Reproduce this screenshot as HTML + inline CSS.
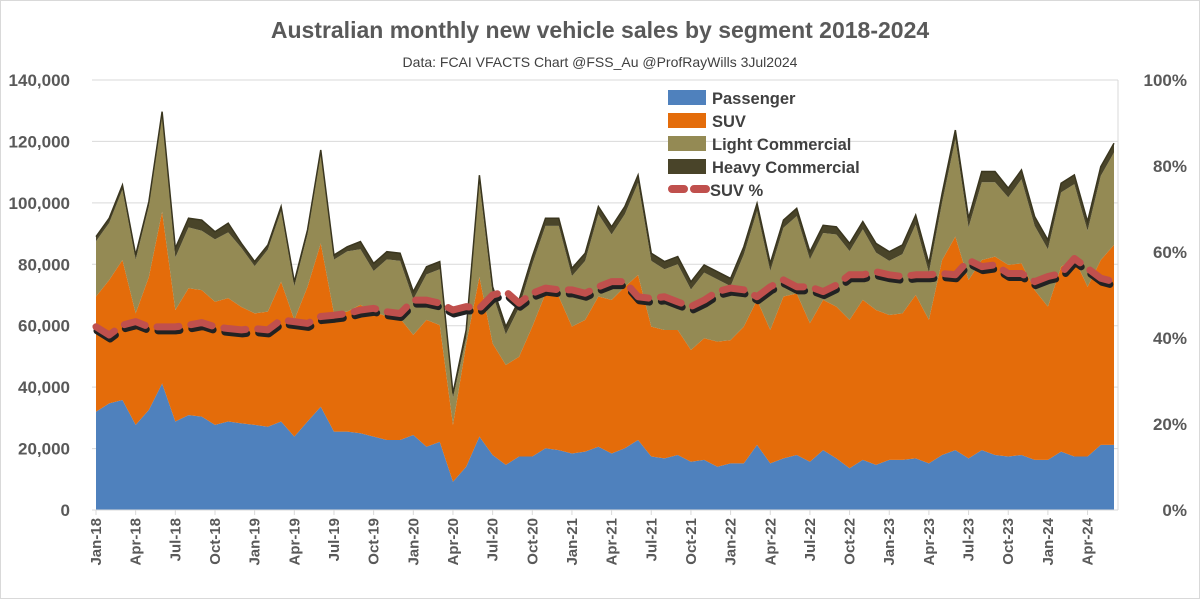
<!DOCTYPE html>
<html><head><meta charset="utf-8"><style>
body{margin:0;background:#fff;}
svg{display:block;font-family:"Liberation Sans",sans-serif;}
</style></head><body>
<svg id="chart" width="1200" height="599" viewBox="0 0 1200 599" xmlns="http://www.w3.org/2000/svg">
<rect x="0.5" y="0.5" width="1199" height="598" fill="#fff" stroke="#d9d9d9"/>
<text x="600" y="38" text-anchor="middle" font-size="23" font-weight="bold" fill="#595959">Australian monthly new vehicle sales by segment 2018-2024</text>
<text x="600" y="67" text-anchor="middle" font-size="14" fill="#404040">Data: FCAI VFACTS  Chart @FSS_Au @ProfRayWills 3Jul2024</text>
<g id="grid"></g><g id="areas"></g><g id="lines"></g><g id="axes"></g>
<g id="legend">
<rect x="668" y="90" width="38" height="15" fill="#4f81bd"/>
<text x="712" y="104" font-size="16.5" font-weight="bold" fill="#404040">Passenger</text>
<rect x="668" y="113" width="38" height="15" fill="#e46c0a"/>
<text x="712" y="127" font-size="16.5" font-weight="bold" fill="#404040">SUV</text>
<rect x="668" y="136" width="38" height="15" fill="#948a54"/>
<text x="712" y="150" font-size="16.5" font-weight="bold" fill="#404040">Light Commercial</text>
<rect x="668" y="159" width="38" height="15" fill="#494429"/>
<text x="712" y="173" font-size="16.5" font-weight="bold" fill="#404040">Heavy Commercial</text>
<line x1="672" y1="189" x2="708" y2="189" stroke="#c0504d" stroke-width="8" stroke-dasharray="12 10" stroke-linecap="round"/>
<text x="710" y="196" font-size="16.5" font-weight="bold" fill="#404040">SUV %</text>
</g>
</svg>
<script>
const monthLabels=["Jan-18","Apr-18","Jul-18","Oct-18","Jan-19","Apr-19","Jul-19","Oct-19","Jan-20","Apr-20","Jul-20","Oct-20","Jan-21","Apr-21","Jul-21","Oct-21","Jan-22","Apr-22","Jul-22","Oct-22","Jan-23","Apr-23","Jul-23","Oct-23","Jan-24","Apr-24"];
const leftTicks=["0","20,000","40,000","60,000","80,000","100,000","120,000","140,000"];
const rightTicks=["0%","20%","40%","60%","80%","100%"];
const passenger=[32,34.7,35.8,27.7,32.6,41.2,28.8,30.9,30.4,27.7,28.8,28.2,27.7,27.1,28.8,23.9,28.8,33.6,25.5,25.5,25,23.9,22.8,22.8,24.4,20.6,22.2,9.2,14.1,23.9,17.9,14.7,17.4,17.4,20.1,19.5,18.4,19,20.6,18.4,20.1,22.8,17.4,16.8,17.9,15.7,16.3,14.1,15.2,15.2,21.2,15.2,16.8,17.9,15.7,19.5,16.8,13.6,16.3,14.7,16.3,16.3,16.8,15.2,17.9,19.5,16.8,19.5,17.9,17.4,17.9,16.3,16.3,19,17.4,17.4,21.2,21.2];
const suv=[37.5,40.2,45.6,36.3,43.3,55.9,36.3,41.3,41.2,40.1,40.2,37.9,36.3,37.5,45.5,38,43.9,53.2,38.5,39.1,41.8,40.7,40.2,39.6,32.6,41.3,38,18.5,39.9,52,36.3,32.5,32.5,42.3,50.4,50,41.3,42.9,48.9,50,52.6,53.7,42.3,41.8,40.7,36.4,39.6,40.7,40.1,44.5,47.2,43.4,52.7,52.6,45.1,48.9,49.4,48.3,52.1,50.4,47.2,47.7,53.2,46.7,63.5,69.5,58.1,61.9,64.6,62.4,62.4,55.3,49.9,60.2,64.5,55.3,60.2,65.1];
const lightCommercial=[18,18.6,22.9,17.5,23,31.1,17.1,19.8,19.3,20.3,21.4,19.2,15.4,20.2,23,10.9,17,28.9,17.5,19.6,18.1,13.2,18.6,18.7,11.6,14.8,18.2,8.8,2.1,30.6,16,10,16,20.3,22,23,16.5,19.2,26.8,21.3,23.6,30,21.4,19.8,21.4,19.7,21.4,20.3,17.6,23.5,28.9,19.2,22.4,25.2,20.8,21.8,23.5,22.4,23,18.7,17.6,19.3,23,15.4,18.7,31.7,17.1,25.3,24.2,22,27.4,20.9,18.7,24.2,24.2,18.2,27.4,30.1];
const heavyCommercial=[1.5,1.5,1.5,1.5,1.5,1.5,3,3,3.5,2.5,3,1.5,1.5,1.5,1.5,1.5,1.5,1.5,1.5,1.5,2.5,2.5,2.5,2.5,2.5,2.5,2.5,1.5,2.5,2.5,2.5,2.5,2.5,2.5,2.5,2.5,2.5,2.5,2.5,2.5,2.5,2.5,2.5,2.5,2.5,2.5,2.5,2.5,2.5,2.5,2.5,2.5,2.5,2.5,2.5,2.5,2.5,2.5,2.5,3,3,3,3,3,3,3,3,3.5,3.5,3,3,3,3,3,3,3,3,3];
const suvPct=[42.6,40.7,43,43.8,42.6,42.6,42.6,43,43.6,42.6,42.2,41.9,42.2,41.9,44.2,43.8,43.4,45,45.3,45.7,46.5,46.9,46.1,45.7,48.8,48.8,48.1,46.5,47.3,46.9,50,50.8,48.1,50.4,51.6,51.2,51.2,50.4,51.9,53.1,53.1,49.6,49.2,49.6,48.4,47.3,48.8,50.8,51.6,51.2,49.6,51.9,53.5,51.9,51.9,50.8,52.3,54.7,54.7,55.4,54.7,54.3,54.7,54.7,55,54.7,58.1,56.6,57,55,55,53.1,54.3,55,58.5,56.2,53.9,53.1];

const NS="http://www.w3.org/2000/svg";
const X0=96,X1=1114,Y0=510,YT=80,N=passenger.length;
const x=i=>X0+(X1-X0)*i/(N-1);
const y=v=>Y0-(Y0-YT)*v/140;
const yp=p=>Y0-(Y0-YT)*p/100;
function mk(tag,attrs,parent){const e=document.createElementNS(NS,tag);for(const k in attrs)e.setAttribute(k,attrs[k]);document.getElementById(parent).appendChild(e);return e;}

leftTicks.forEach((t,k)=>{
  const yy=y(k*20);
  if(k>0){const g=mk('line',{x1:X0-4,x2:X1+4,y1:yy,y2:yy,stroke:'#d9d9d9','stroke-width':1},'grid');
  
  }
  const tx=mk('text',{x:70,y:yy+6,'text-anchor':'end','font-size':17,'font-weight':'bold',fill:'#595959'},'axes');
  tx.textContent=t;
  
  
});
rightTicks.forEach((t,k)=>{
  const yy=yp(k*20);
  const tx=mk('text',{x:1187,y:yy+6,'text-anchor':'end','font-size':17,'font-weight':'bold',fill:'#595959'},'axes');
  tx.textContent=t;
  
  
});
const ax=mk('line',{x1:X0-4,x2:X1+4,y1:Y0,y2:Y0,stroke:'#d9d9d9','stroke-width':1},'axes');


const ra=mk('line',{x1:X1+4,x2:X1+4,y1:YT,y2:Y0,stroke:'#d9d9d9','stroke-width':1},'axes');


monthLabels.forEach((m,k)=>{
  const xx=x(k*3);
  const tk=mk('line',{x1:xx,x2:xx,y1:Y0,y2:Y0+5,stroke:'#d9d9d9'},'axes');
  
  
  const tx=mk('text',{x:0,y:0,transform:`translate(${xx+5},${Y0+8}) rotate(-90)`,'text-anchor':'end','font-size':15,'font-weight':'bold',fill:'#595959'},'axes');
  tx.textContent=m;
  
  
});

const series=[[passenger,'#4f81bd','area-passenger'],[suv,'#e46c0a','area-suv'],[lightCommercial,'#948a54','area-light-commercial'],[heavyCommercial,'#494429','area-heavy-commercial']];
let base=new Array(N).fill(0);
series.forEach(([arr,col,name])=>{
  const top=base.map((b,i)=>b+arr[i]);
  let d='M'+top.map((v,i)=>x(i)+','+y(v)).join(' L');
  for(let i=N-1;i>=0;i--)d+=' L'+x(i)+','+y(base[i]);
  d+='Z';
  const p=mk('path',{d:d,fill:col},'areas');
  
  
  base=top;
});
const edge=mk('polyline',{points:base.map((v,i)=>x(i)+','+y(v)).join(' '),fill:'none',stroke:'#3a361f','stroke-width':1.5},'areas');



const pts=suvPct.map((v,i)=>x(i)+','+yp(v)).join(' ');
const sh=mk('polyline',{points:pts,fill:'none',stroke:'#222','stroke-width':7,'stroke-dasharray':'22 12','stroke-linecap':'round','stroke-linejoin':'round',transform:'translate(1,4)'},'lines');


const ln=mk('polyline',{points:pts,fill:'none',stroke:'#c0504d','stroke-width':7,'stroke-dasharray':'22 12','stroke-linecap':'round','stroke-linejoin':'round'},'lines');


</script>
</body></html>
